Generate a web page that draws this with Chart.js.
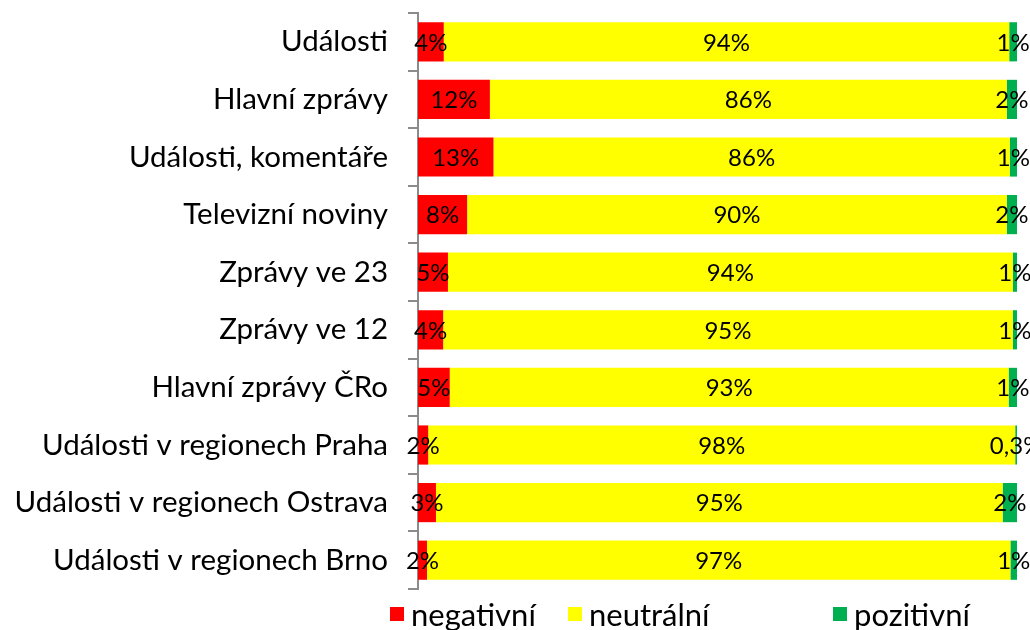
<!DOCTYPE html>
<html>
<head>
<meta charset="utf-8">
<script src="https://cdn.jsdelivr.net/npm/chart.js@4"></script>
<style>
    html, body { margin: 0; padding: 0; background: #fff; }
    #wrap { position: relative; width: 1030px; height: 630px; }
    #legend { position: absolute; left: 390px; top: 595px; display: flex; font-family: Lato, sans-serif; font-size: 31px; color: #000; }
    #legend .item { display: flex; align-items: center; }
    #legend .box { width: 14px; height: 14px; margin-right: 7px; }
</style>
</head>
<body>
<div id="wrap">
    <canvas id="chart" width="1030" height="630"></canvas>
    <div id="legend"></div>
</div>
<script>
// Kategorie (pořadí shora dolů)
const categories = [
    'Události',
    'Hlavní zprávy',
    'Události, komentáře',
    'Televizní noviny',
    'Zprávy ve 23',
    'Zprávy ve 12',
    'Hlavní zprávy ČRo',
    'Události v regionech Praha',
    'Události v regionech Ostrava',
    'Události v regionech Brno'
];

// Podíly v %
const negativni = [4.3, 12.0, 12.6, 8.2, 5.0, 4.2, 5.3, 1.7, 3.0, 1.5];
const neutralni = [94.4, 86.3, 86.2, 90.1, 94.3, 95.1, 93.3, 98.0, 94.6, 97.4];
const pozitivni = [1.3, 1.7, 1.2, 1.7, 0.7, 0.7, 1.4, 0.3, 2.4, 1.1];

const seriesNames = ['negativní', 'neutrální', 'pozitivní'];
const seriesColors = ['#FF0000', '#FFFF00', '#00B050'];

const fontFamily = 'Lato, sans-serif';

// formát popisku: celé procento, pod 0,5 % jedna desetinná (čárka)
const formatPct = v => (v < 0.5 ? v.toFixed(1).replace('.', ',') : Math.round(v)) + '%';

// popisky hodnot uprostřed segmentů
const barLabels = {
    id: 'barLabels',
    afterDatasetsDraw(chart) {
        const ctx = chart.ctx;
        ctx.save();
        ctx.font = '24px ' + fontFamily;
        ctx.fillStyle = '#000';
        ctx.textAlign = 'center';
        ctx.textBaseline = 'middle';
        chart.data.datasets.forEach((ds, i) => {
            const meta = chart.getDatasetMeta(i);
            meta.data.forEach((bar, j) => {
                const x = (bar.x + bar.base) / 2;
                ctx.fillText(formatPct(ds.data[j]), x, bar.y + 1);
            });
        });
        ctx.restore();
    }
};

const datasets = [negativni, neutralni, pozitivni].map((data, i) => ({
    label: seriesNames[i],
    data: data,
    backgroundColor: seriesColors[i],
    borderWidth: 0,
    categoryPercentage: 1,
    barPercentage: 0.68
}));

const chart = new Chart(document.getElementById('chart').getContext('2d'), {
    type: 'bar',
    data: { labels: categories, datasets: datasets },
    options: {
        indexAxis: 'y',
        responsive: false,
        animation: false,
        layout: { padding: { top: 13, right: 13, bottom: 41, left: 0 } },
        scales: {
            x: {
                stacked: true,
                min: 0,
                max: 100,
                display: false
            },
            y: {
                stacked: true,
                afterFit: scale => {
                    scale.width = 418;
                    scale.paddingTop = 0;
                    scale.paddingBottom = 0;
                },
                border: { display: true, color: '#8C8C8C', width: 2 },
                grid: {
                    offset: true,
                    drawOnChartArea: false,
                    drawTicks: true,
                    tickLength: 10,
                    color: '#8C8C8C',
                    lineWidth: 2
                },
                ticks: {
                    padding: 20,
                    color: '#000',
                    font: { family: fontFamily, size: 29.5 }
                }
            }
        },
        plugins: {
            legend: { display: false },
            tooltip: { enabled: false }
        }
    },
    plugins: [barLabels]
});

// legenda pod grafem
const legendEl = document.getElementById('legend');
const itemWidths = [178, 265, null];
datasets.forEach((ds, i) => {
    const item = document.createElement('div');
    item.className = 'item';
    if (itemWidths[i]) item.style.width = itemWidths[i] + 'px';
    const box = document.createElement('span');
    box.className = 'box';
    box.style.background = ds.backgroundColor;
    const txt = document.createElement('span');
    txt.textContent = ds.label;
    item.appendChild(box);
    item.appendChild(txt);
    legendEl.appendChild(item);
});
</script>
</body>
</html>
